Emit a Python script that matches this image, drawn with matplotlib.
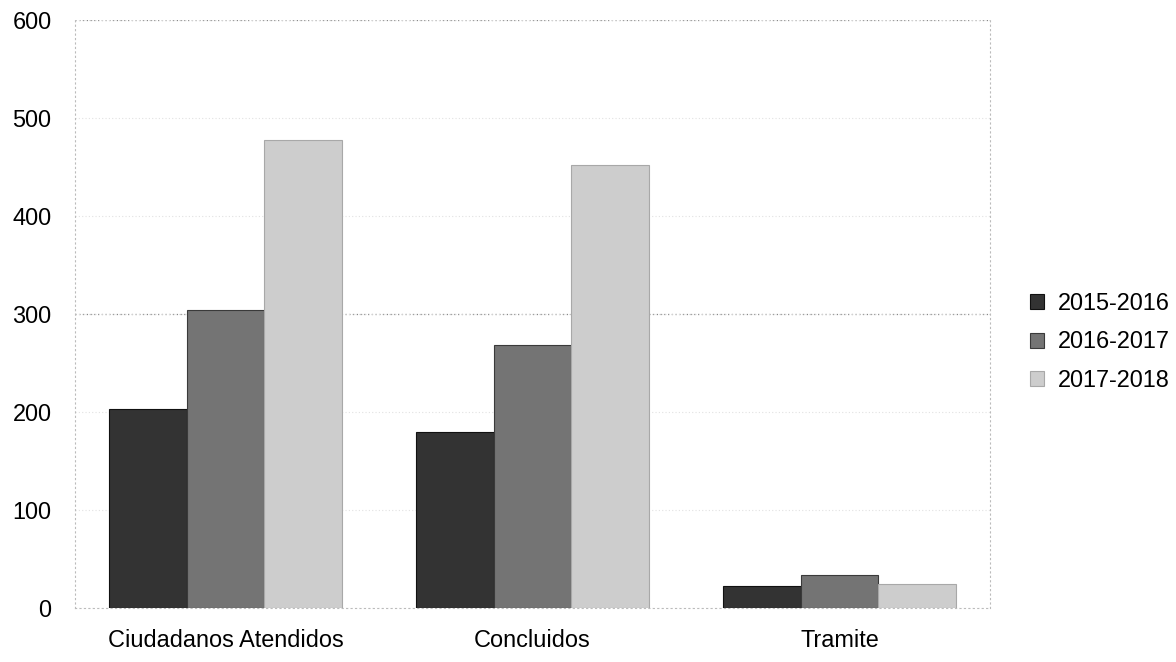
import matplotlib
matplotlib.use("Agg")
import matplotlib.pyplot as plt
import numpy as np

categories = ["Ciudadanos Atendidos", "Concluidos", "Tramite"]
series_names = ["2015-2016", "2016-2017", "2017-2018"]
v_2015_2016 = [203, 180, 22]
v_2016_2017 = [304, 268, 34]
v_2017_2018 = [478, 452, 25]
yticks = [0, 100, 200, 300, 400, 500, 600]

colors = ["#333333", "#747474", "#cdcdcd"]
edges = ["#111111", "#3a3a3a", "#a8a8a8"]

plt.rcParams['font.family'] = ['Liberation Sans', 'DejaVu Sans']
FS = 16.9

fig = plt.figure(figsize=(11.76, 6.62), dpi=100)
ax = fig.add_axes([75/1176, 1 - 608/662, (990-75)/1176, (608-20)/662])

x = np.arange(len(categories))
w = 0.253
for i, (vals, name) in enumerate(zip([v_2015_2016, v_2016_2017, v_2017_2018], series_names)):
    ax.bar(x + (i - 1) * w, vals, width=w, color=colors[i], edgecolor=edges[i],
           linewidth=0.8, label=name, zorder=3)

ax.set_xlim(-0.49, 2.49)
ax.set_ylim(0, 600)
ax.set_yticks(yticks)
ax.set_xticks(x)
ax.set_xticklabels(categories, fontsize=FS)
ax.tick_params(axis='y', labelsize=FS, length=0, pad=17)
ax.tick_params(axis='x', length=0, pad=15)

ax.yaxis.grid(True, color="#e2e2e2", linestyle=(0, (1, 2)), linewidth=0.8, zorder=0)
for yv in (300, 600):
    ax.axhline(yv, color="#888888", linestyle=(0, (1, 2)), linewidth=0.9, zorder=1)

for s in ["left", "right", "bottom"]:
    ax.spines[s].set_color("#bbbbbb")
    ax.spines[s].set_linestyle((0, (1, 3)))
    ax.spines[s].set_linewidth(0.8)
ax.spines["top"].set_visible(False)

fig.legend(loc="center left", bbox_to_anchor=(1018/1176, 1 - 342/662),
           bbox_transform=fig.transFigure, frameon=False, fontsize=FS,
           handlelength=0.62, handleheight=0.62, handletextpad=0.6,
           labelspacing=0.66, borderpad=0)

fig.savefig("out.png", dpi=100)
